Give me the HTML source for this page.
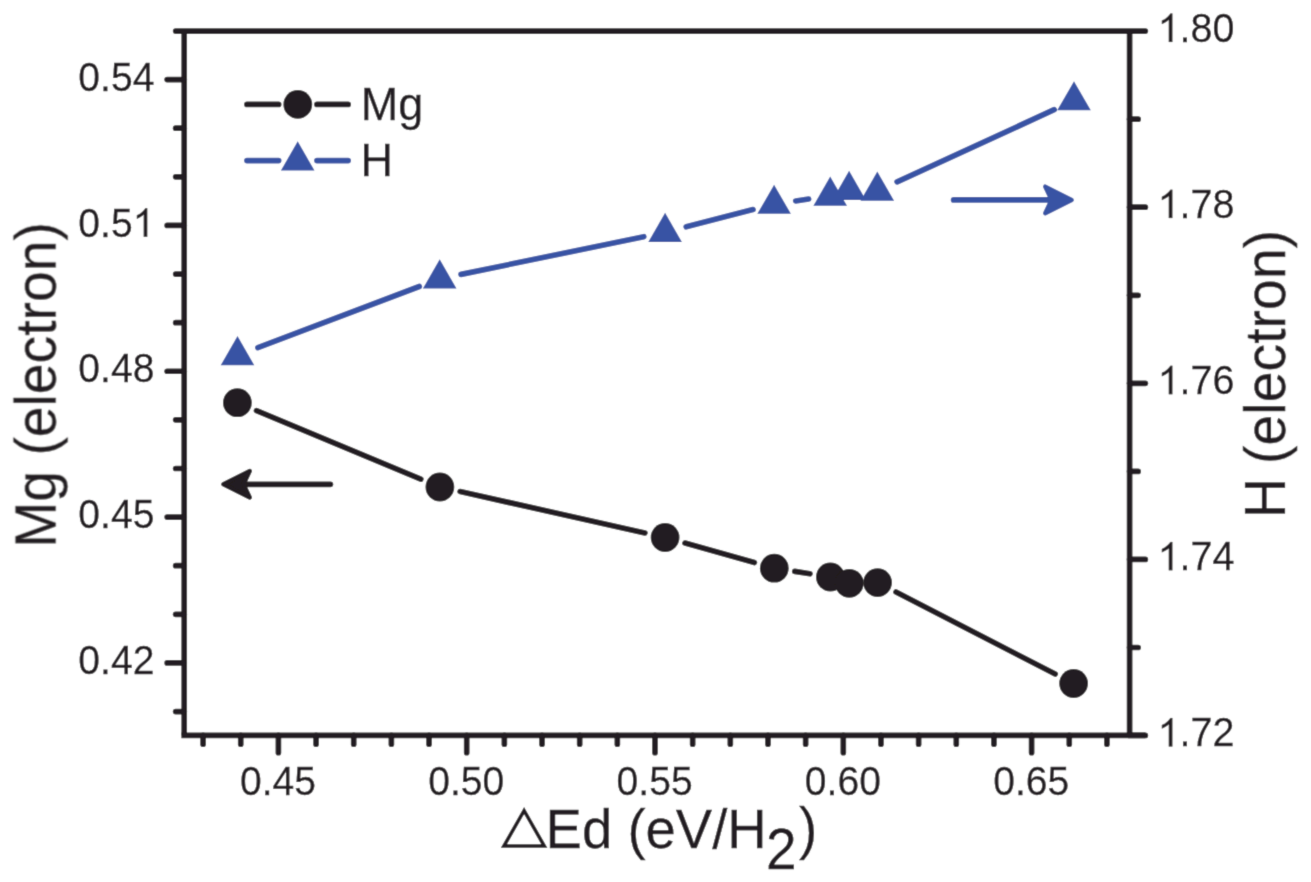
<!DOCTYPE html>
<html><head><meta charset="utf-8"><title>Chart</title>
<style>
html,body{margin:0;padding:0;background:#fff;}
body{width:1311px;height:882px;overflow:hidden;font-family:"Liberation Sans",sans-serif;}
</style></head>
<body>
<svg width="1311" height="882" viewBox="0 0 1311 882" style="display:block">
<rect width="1311" height="882" fill="#fff"/>
<defs><filter id="sf" x="0" y="0" width="1311" height="882" filterUnits="userSpaceOnUse"><feConvolveMatrix order="3" kernelMatrix="0.01690 0.09620 0.01690 0.09620 0.54760 0.09620 0.01690 0.09620 0.01690" divisor="1" edgeMode="duplicate" preserveAlpha="true"/></filter></defs>
<g filter="url(#sf)">
<rect width="1311" height="882" fill="#fff"/>
<g stroke="#231f20" stroke-width="5.7" stroke-linecap="round" fill="none">
<path d="M184.2 735.4 V31.1" stroke-linecap="butt"/>
<path d="M1129.6 735.4 V31.1" stroke-linecap="butt"/>
<path d="M175.65 31.1 H1145.35"/>
<path d="M181.35 735.4 H1145.35" stroke-linecap="butt"/>
<path d="M1129.6 735.4 H1145.35"/>
<path d="M175.65 711.53 H184.2"/>
<path d="M167.15 662.92 H184.2"/>
<path d="M175.65 614.31 H184.2"/>
<path d="M175.65 565.70 H184.2"/>
<path d="M167.15 517.09 H184.2"/>
<path d="M175.65 468.48 H184.2"/>
<path d="M175.65 419.87 H184.2"/>
<path d="M167.15 371.26 H184.2"/>
<path d="M175.65 322.65 H184.2"/>
<path d="M175.65 274.04 H184.2"/>
<path d="M167.15 225.43 H184.2"/>
<path d="M175.65 176.82 H184.2"/>
<path d="M175.65 128.21 H184.2"/>
<path d="M167.15 79.60 H184.2"/>
<path d="M1129.6 647.52 H1138.15"/>
<path d="M1129.6 559.46 H1145.35"/>
<path d="M1129.6 471.40 H1138.15"/>
<path d="M1129.6 383.34 H1145.35"/>
<path d="M1129.6 295.28 H1138.15"/>
<path d="M1129.6 207.22 H1145.35"/>
<path d="M1129.6 119.16 H1138.15"/>
<path d="M203.08 735.4 V744.15"/>
<path d="M240.74 735.4 V744.15"/>
<path d="M278.40 735.4 V752.65"/>
<path d="M316.06 735.4 V744.15"/>
<path d="M353.72 735.4 V744.15"/>
<path d="M391.38 735.4 V744.15"/>
<path d="M429.04 735.4 V744.15"/>
<path d="M466.70 735.4 V752.65"/>
<path d="M504.36 735.4 V744.15"/>
<path d="M542.02 735.4 V744.15"/>
<path d="M579.68 735.4 V744.15"/>
<path d="M617.34 735.4 V744.15"/>
<path d="M655.00 735.4 V752.65"/>
<path d="M692.66 735.4 V744.15"/>
<path d="M730.32 735.4 V744.15"/>
<path d="M767.98 735.4 V744.15"/>
<path d="M805.64 735.4 V744.15"/>
<path d="M843.30 735.4 V752.65"/>
<path d="M880.96 735.4 V744.15"/>
<path d="M918.62 735.4 V744.15"/>
<path d="M956.28 735.4 V744.15"/>
<path d="M993.94 735.4 V744.15"/>
<path d="M1031.60 735.4 V752.65"/>
<path d="M1069.26 735.4 V744.15"/>
<path d="M1106.92 735.4 V744.15"/>
</g>
<path d="M256.51 410.66 L420.79 479.04 M460.10 491.53 L644.90 532.97 M685.03 543.10 L754.37 562.60 M794.75 571.41 L809.95 573.79 M896.00 592.07 L1055.20 674.03" stroke="#231f20" stroke-width="5.7" stroke-linecap="round" fill="none"/>
<path d="M257.89 347.68 L419.31 286.52 M461.05 274.40 L643.75 236.70 M686.21 226.84 L752.99 209.56 M795.67 200.95 L808.63 199.05 M897.11 181.90 L1054.19 109.70" stroke="#3953a4" stroke-width="5.7" stroke-linecap="round" fill="none"/>
<circle cx="237.4" cy="402.7" r="14.4" fill="#231f20"/>
<circle cx="439.9" cy="487.0" r="14.4" fill="#231f20"/>
<circle cx="665.1" cy="537.5" r="14.4" fill="#231f20"/>
<circle cx="774.3" cy="568.2" r="14.4" fill="#231f20"/>
<circle cx="830.4" cy="577.0" r="14.4" fill="#231f20"/>
<circle cx="849.3" cy="583.3" r="14.4" fill="#231f20"/>
<circle cx="877.6" cy="582.6" r="14.4" fill="#231f20"/>
<circle cx="1073.6" cy="683.5" r="14.4" fill="#231f20"/>
<path d="M237.50 335.93 L254.30 365.13 L220.70 365.13Z" fill="#3953a4"/>
<path d="M439.70 259.33 L456.50 288.53 L422.90 288.53Z" fill="#3953a4"/>
<path d="M665.10 212.83 L681.90 242.03 L648.30 242.03Z" fill="#3953a4"/>
<path d="M774.10 184.63 L790.90 213.83 L757.30 213.83Z" fill="#3953a4"/>
<path d="M830.20 176.43 L847.00 205.63 L813.40 205.63Z" fill="#3953a4"/>
<path d="M849.10 170.83 L865.90 200.03 L832.30 200.03Z" fill="#3953a4"/>
<path d="M877.30 171.53 L894.10 200.73 L860.50 200.73Z" fill="#3953a4"/>
<path d="M1074.00 81.13 L1090.80 110.33 L1057.20 110.33Z" fill="#3953a4"/>
<path d="M246.95 104.4 H278.65 M316.95000000000005 104.4 H348.15" stroke="#231f20" stroke-width="5.7" stroke-linecap="round"/>
<circle cx="297.8" cy="104.4" r="14.4" fill="#231f20"/>
<path d="M246.95 160.6 H278.65 M316.95000000000005 160.6 H348.15" stroke="#3953a4" stroke-width="5.7" stroke-linecap="round"/>
<path d="M297.70 141.23 L314.50 170.43 L280.90 170.43Z" fill="#3953a4"/>
<path d="M953.60 199.9 H1051.50" stroke="#3953a4" stroke-width="5.7" stroke-linecap="round"/><path d="M1071.65 199.90 L1045.25 186.65 L1051.50 199.90 L1045.25 213.15Z" fill="#3953a4" stroke="#3953a4" stroke-width="4.5" stroke-linejoin="round"/>
<path d="M330.40 484.3 H243.50" stroke="#231f20" stroke-width="5.7" stroke-linecap="round"/><path d="M223.35 484.30 L249.75 471.05 L243.50 484.30 L249.75 497.55Z" fill="#231f20" stroke="#231f20" stroke-width="4.5" stroke-linejoin="round"/>
<g font-family="'Liberation Sans', sans-serif" fill="#231f20" stroke="#231f20" stroke-width="0.25" opacity="0.999">
<text transform="translate(78.29 674.12) scale(0.99 1.04)" font-size="39.5">0.42</text>
<text transform="translate(78.29 528.29) scale(0.99 1.04)" font-size="39.5">0.45</text>
<text transform="translate(78.29 382.46) scale(0.99 1.04)" font-size="39.5">0.48</text>
<text transform="translate(78.29 236.63) scale(0.99 1.04)" font-size="39.5">0.5</text><path d="M763 0H583V1147Q518 1085 412.5 1023T223 930V1104Q380 1178 497.5 1283T664 1466H763Z" transform="translate(132.65 236.63) scale(0.01909 -0.01929)" stroke-width="13.0"/>
<text transform="translate(78.29 90.80) scale(0.99 1.04)" font-size="39.5">0.54</text>
<path d="M763 0H583V1147Q518 1085 412.5 1023T223 930V1104Q380 1178 497.5 1283T664 1466H763Z" transform="translate(1157.60 746.38) scale(0.01929 -0.01929)" stroke-width="13.0"/><text transform="translate(1179.57 746.38) scale(1.0 1.04)" font-size="39.5">.72</text>
<path d="M763 0H583V1147Q518 1085 412.5 1023T223 930V1104Q380 1178 497.5 1283T664 1466H763Z" transform="translate(1157.60 570.26) scale(0.01929 -0.01929)" stroke-width="13.0"/><text transform="translate(1179.57 570.26) scale(1.0 1.04)" font-size="39.5">.74</text>
<path d="M763 0H583V1147Q518 1085 412.5 1023T223 930V1104Q380 1178 497.5 1283T664 1466H763Z" transform="translate(1157.60 394.14) scale(0.01929 -0.01929)" stroke-width="13.0"/><text transform="translate(1179.57 394.14) scale(1.0 1.04)" font-size="39.5">.76</text>
<path d="M763 0H583V1147Q518 1085 412.5 1023T223 930V1104Q380 1178 497.5 1283T664 1466H763Z" transform="translate(1157.60 218.02) scale(0.01929 -0.01929)" stroke-width="13.0"/><text transform="translate(1179.57 218.02) scale(1.0 1.04)" font-size="39.5">.78</text>
<path d="M763 0H583V1147Q518 1085 412.5 1023T223 930V1104Q380 1178 497.5 1283T664 1466H763Z" transform="translate(1157.60 41.90) scale(0.01929 -0.01929)" stroke-width="13.0"/><text transform="translate(1179.57 41.90) scale(1.0 1.04)" font-size="39.5">.80</text>
<text transform="translate(239.94 795.00) scale(0.99 1.04)" font-size="39.5">0.45</text>
<text transform="translate(428.24 795.00) scale(0.99 1.04)" font-size="39.5">0.50</text>
<text transform="translate(616.54 795.00) scale(0.99 1.04)" font-size="39.5">0.55</text>
<text transform="translate(804.84 795.00) scale(0.99 1.04)" font-size="39.5">0.60</text>
<text transform="translate(993.14 795.00) scale(0.99 1.04)" font-size="39.5">0.65</text>
<text transform="translate(360.80 120.20) scale(1.0 1.04)" font-size="45">Mg</text>
<text transform="translate(360.60 176.20) scale(1.0 1.04)" font-size="45">H</text>
<text transform="translate(55.10 547.70) rotate(-90) scale(1.0 1.03)" font-size="55.3">Mg (electron)</text>
<text transform="translate(1284.60 518.00) rotate(-90) scale(1.0 1.03)" font-size="55.3">H</text>
<text transform="translate(1284.60 464.10) rotate(-90) scale(1.003 1.03)" font-size="55.3">(electron)</text>
<text transform="translate(545.60 847.90) scale(1.0 1.03)" font-size="54.5">Ed (eV/H</text>
<text transform="translate(766.00 869.20) scale(1.0 1.04)" font-size="55">2</text>
<text transform="translate(799.00 847.90) scale(1.0 1.03)" font-size="55">)</text>
</g>
<path d="M524.1 810.6 L544.3 846.0 L503.9 846.0Z" fill="none" stroke="#231f20" stroke-width="3.6" stroke-linejoin="miter"/>
</g>
</svg>
</body></html>
